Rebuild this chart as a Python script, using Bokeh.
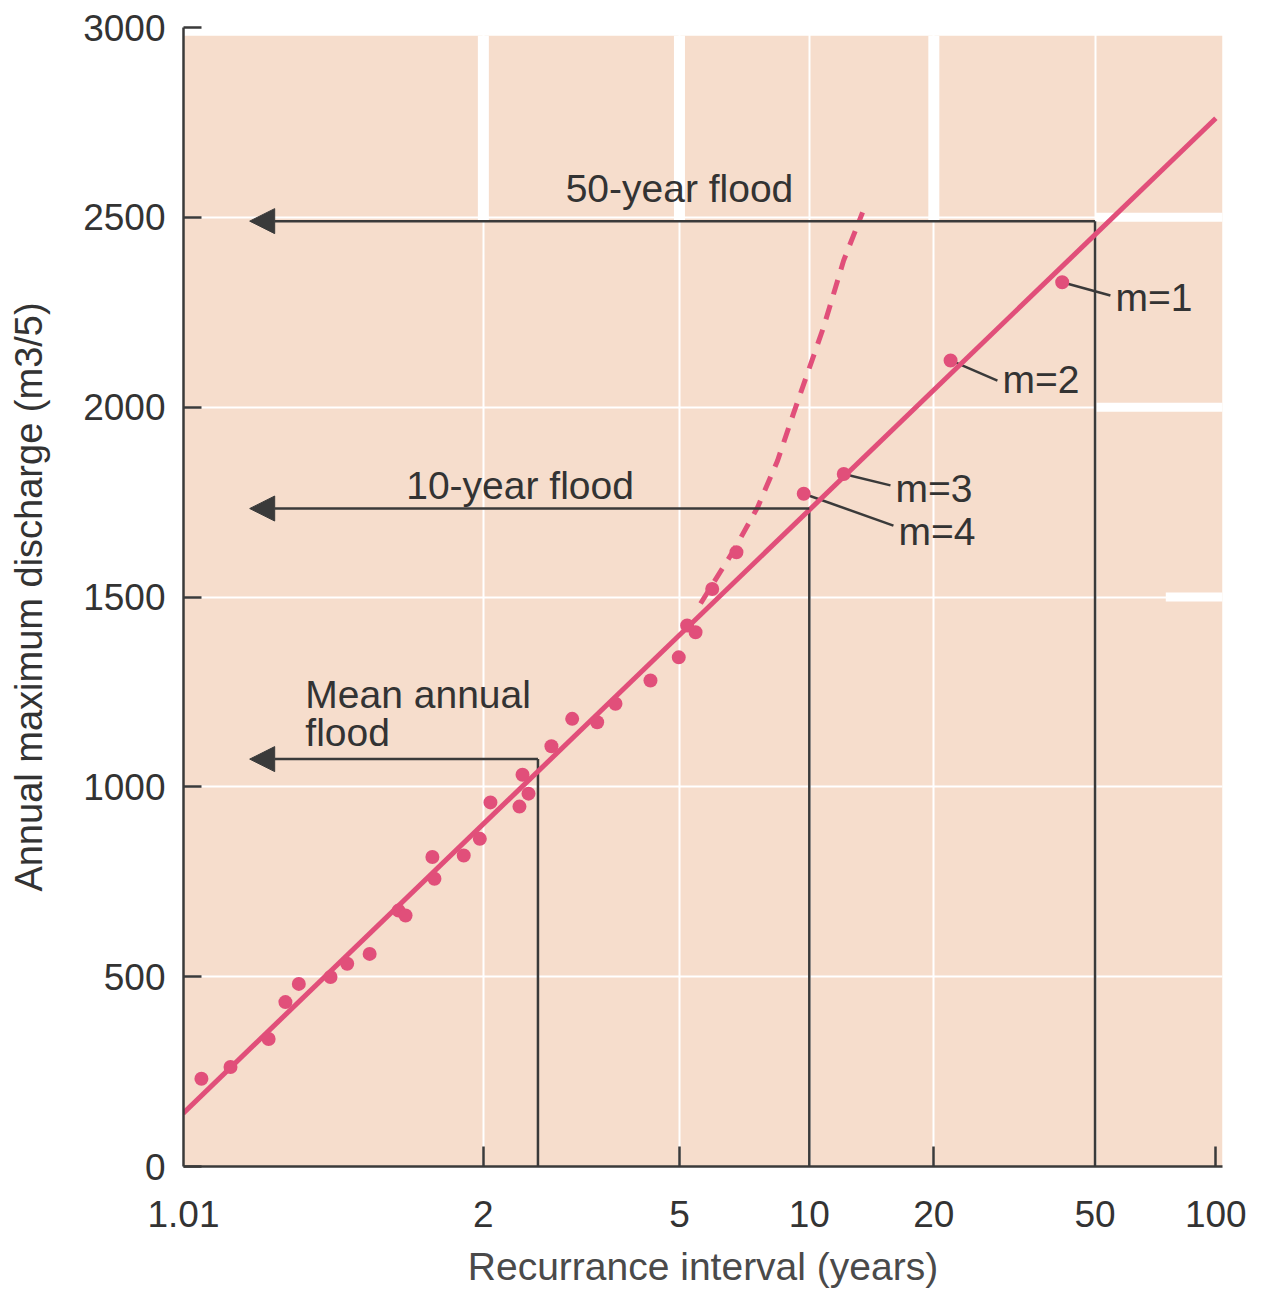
import numpy as np
from bokeh.plotting import figure
from bokeh.models import (Range1d, FixedTicker, Arrow, NormalHead,
                          CustomJSTickFormatter, ColumnDataSource)
from bokeh.core.properties import value
from bokeh.embed import file_html
from bokeh.resources import INLINE

# ---------------- data ----------------
# observed annual maximum floods: recurrence interval (years) and discharge
point_T = [1.030, 1.053, 1.100, 1.128, 1.154, 1.230, 1.279, 1.356, 1.476, 1.509,
           1.651, 1.663, 1.852, 1.972, 2.058, 2.324, 2.355, 2.417, 2.677, 2.945,
           3.315, 3.623, 4.312, 4.982, 5.203, 5.435, 5.931, 6.743, 9.70, 12.09,
           21.98, 41.44]
point_Q = [231, 262, 336, 433, 481, 499, 534, 560, 674, 661,
           815, 758, 819, 863, 959, 948, 1032, 982, 1107, 1179,
           1170, 1219, 1280, 1341, 1425, 1407, 1521, 1618, 1772, 1824,
           2123, 2329]

# fitted straight line
fit_T = [1.02, 100.0]
fit_Q = [140, 2761]

# dashed (curved) extrapolation
dash_T = [5.58, 6.64, 7.55, 8.41, 9.17, 10.81, 12.08, 13.42]
dash_Q = [1483, 1622, 1736, 1859, 1983, 2210, 2386, 2513]

# flood read-offs
flood_T = [2.52, 10.0, 50.0]
flood_Q = [1073, 1733, 2490]
arrow_tip_T = 1.074

# ranked points m=1..4 with leader lines
rank_labels = ["m=1", "m=2", "m=3", "m=4"]
rank_T = [41.44, 21.98, 12.09, 9.70]
rank_Q = [2329, 2123, 1824, 1772]
leader_T = [54.6, 28.66, 15.68, 15.94]
leader_Q = [2294, 2070, 1794, 1688]
rank_label_Q = [2289, 2073, 1786, 1672]

# text annotations
note_texts = ["50-year flood", "10-year flood"]
note_T = [5.0, 2.33]
note_Q = [2576, 1793]
mean_texts = ["Mean annual", "flood"]
mean_T = [1.168, 1.168]
mean_Q = [1243, 1143]

# axes
x_tick_T = [2, 5, 10, 20, 50, 100]
x_minor_T = [2, 5, 20, 100]
first_tick_T = 1.01
x_grid_T = [2, 5, 10, 20, 50]
y_ticks = [0, 500, 1000, 1500, 2000, 2500, 3000]
y_grid = [500, 1000, 1500, 2000, 2500]
x_limits_T = [1.0202, 103.9]
y_limits = [0, 3000]
paper_top_Q = 2978

# paper gutters (white bands of the printed graph paper)
band_v_T = [2, 5, 20]
band_h_Q = [2500, 2000, 1500]
band_h_from_T = [50, 50, 75]


def gumbel(T):
    """Gumbel reduced variate used by the probability paper."""
    T = np.asarray(T, dtype=float)
    return -np.log(-np.log(1.0 - 1.0 / T))


def gl(T):
    return [float(v) for v in np.atleast_1d(gumbel(T))]


RED = "#E14F7A"
PEACH = "#F6DDCC"
INK = "#3a3a3a"
TXT = "#333333"
FONT = "Liberation Sans"

x0, x1 = gl(x_limits_T)

p = figure(width=1254, height=1290, output_backend="svg", toolbar_location=None,
           x_range=Range1d(x0, x1), y_range=Range1d(*y_limits),
           min_border_left=183, min_border_right=32, min_border_top=27,
           min_border_bottom=123)
p.outline_line_color = None
p.background_fill_color = "white"
p.border_fill_color = "white"

# paper
p.quad(left=x0, right=x1, bottom=y_limits[0], top=paper_top_Q,
       fill_color=PEACH, line_color=None, level="image")

# grid
p.xgrid.ticker = FixedTicker(ticks=gl(x_grid_T))
p.ygrid.ticker = FixedTicker(ticks=y_grid)
for g in (p.xgrid[0], p.ygrid[0]):
    g.grid_line_color = "white"
    g.grid_line_width = 2

# gutters
vb = gl(band_v_T)
p.segment(x0=vb, y0=[flood_Q[2]] * len(vb), x1=vb, y1=[paper_top_Q] * len(vb),
          line_color="white", line_width=11, level="underlay")
p.segment(x0=gl(band_h_from_T), y0=band_h_Q, x1=[x1] * len(band_h_Q), y1=band_h_Q,
          line_color="white", line_width=9, level="underlay")

# x axis: first labelled line (1.01) sits on the left edge of the paper
first_pos = max(gl(first_tick_T)[0], x0 + 1e-6)
xa = p.xaxis[0]
xa.ticker = FixedTicker(ticks=[first_pos] + gl(x_tick_T), minor_ticks=gl(x_minor_T))
xa.formatter = CustomJSTickFormatter(
    code="const T = 1/(1-Math.exp(-Math.exp(-tick)));"
         " if (T < 1.1) { return '1.01'; } return String(Math.round(T));")
xa.major_tick_in = 0
xa.major_tick_out = 0
xa.minor_tick_in = 20
xa.minor_tick_out = 0
xa.minor_tick_line_width = 2.5
xa.minor_tick_line_color = INK
xa.axis_line_width = 2.5
xa.axis_line_color = INK
xa.major_label_standoff = 34
xa.major_label_text_font = FONT
xa.major_label_text_font_size = "37px"
xa.major_label_text_color = TXT
xa.axis_label = "Recurrance interval (years)"
xa.axis_label_text_font = FONT
xa.axis_label_text_font_size = "39px"
xa.axis_label_text_font_style = "normal"
xa.axis_label_text_color = "#4a4a4a"
xa.axis_label_standoff = 15

# y axis
ya = p.yaxis[0]
ya.ticker = FixedTicker(ticks=y_ticks)
ya.major_tick_in = 18
ya.major_tick_out = 0
ya.minor_tick_in = 0
ya.minor_tick_out = 0
ya.major_tick_line_width = 2.5
ya.major_tick_line_color = INK
ya.axis_line_width = 2.5
ya.axis_line_color = INK
ya.major_label_standoff = 18
ya.major_label_text_font = FONT
ya.major_label_text_font_size = "37px"
ya.major_label_text_color = TXT
ya.axis_label = "Annual maximum discharge (m3/5)"
ya.axis_label_text_font = FONT
ya.axis_label_text_font_size = "38px"
ya.axis_label_text_font_style = "normal"
ya.axis_label_text_color = TXT
ya.axis_label_standoff = 30

# flood read-off lines
fx = gl(flood_T)
p.segment(x0=fx, y0=[0] * 3, x1=fx, y1=flood_Q, line_color=INK, line_width=2.5)
arrows = ColumnDataSource(dict(xs=fx, ys=flood_Q, xe=gl([arrow_tip_T] * 3), ye=flood_Q))
p.add_layout(Arrow(end=NormalHead(size=25, fill_color=INK, line_color=INK, line_width=1),
                   x_start="xs", y_start="ys", x_end="xe", y_end="ye", source=arrows,
                   line_color=INK, line_width=2.5))

# leaders for ranks
p.segment(x0=gl(rank_T), y0=rank_Q, x1=gl(leader_T), y1=leader_Q,
          line_color=INK, line_width=2.5)

# fitted and extrapolated lines
p.line(gl(fit_T), fit_Q, line_color=RED, line_width=5)
p.line(gl(dash_T), dash_Q, line_color=RED, line_width=5, line_dash="15 11")

# observations
p.scatter(gl(point_T), point_Q, size=14, fill_color=RED, line_color=None)

# texts
p.text(x=gl(leader_T), y=rank_label_Q, text=rank_labels, x_offset=5,
       text_align="left", text_baseline="middle", text_font=value(FONT),
       text_font_size="39px", text_color=TXT)
p.text(x=gl(note_T), y=note_Q, text=note_texts, text_align="center",
       text_baseline="middle", text_font=value(FONT), text_font_size="39px",
       text_color=TXT)
p.text(x=gl(mean_T), y=mean_Q, text=mean_texts, text_align="left",
       text_baseline="middle", text_font=value(FONT), text_font_size="39px",
       text_color=TXT)

open("out.html", "w").write(file_html(p, INLINE))
